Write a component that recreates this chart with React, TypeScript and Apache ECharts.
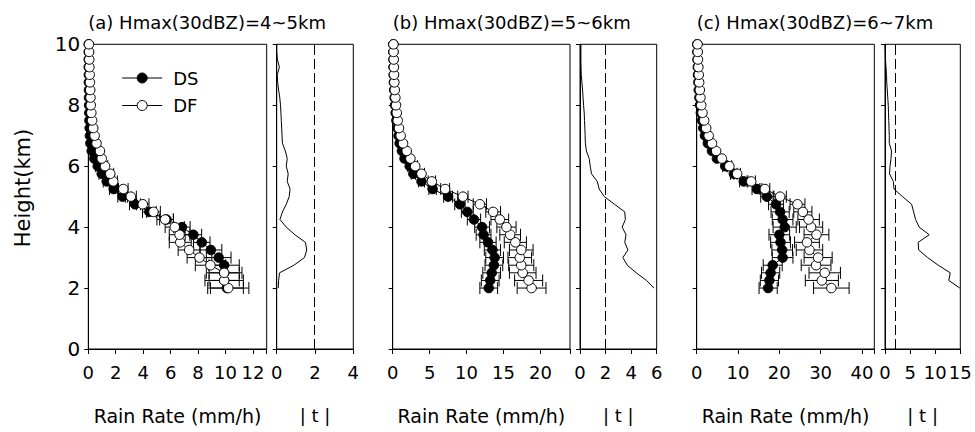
import React, { useEffect, useRef } from "react";
import * as echarts from "echarts";

// ---------- data ----------
const heights = [2, 2.25, 2.5, 2.75, 3, 3.25, 3.5, 3.75, 4, 4.25, 4.5, 4.75, 5, 5.25, 5.5, 5.75, 6, 6.25, 6.5, 6.75, 7, 7.25, 7.5, 7.75, 8, 8.25, 8.5, 8.75, 9, 9.25, 9.5, 9.75, 10];

const panelTitles = ["(a) Hmax(30dBZ)=4~5km", "(b) Hmax(30dBZ)=5~6km", "(c) Hmax(30dBZ)=6~7km"];
const seriesNames = ["DS", "DF"];

// panel (a)
const dsA = [10.1, 9.9, 9.9, 9.9, 9.5, 8.93, 8.27, 7.66, 6.82, 5.7, 4.45, 3.4, 2.5, 1.85, 1.34, 0.98, 0.69, 0.44, 0.25, 0.15, 0.12, 0.1, 0.08, 0.07, 0.06, 0.05, 0.05, 0.04, 0.04, 0.03, 0.03, 0.03, 0.03];
const dfA = [10.2, 9.9, 9.9, 8.9, 8.1, 7.35, 6.7, 6.65, 6.3, 5.6, 4.75, 3.97, 3.1, 2.55, 1.82, 1.6, 1.22, 0.98, 0.85, 0.6, 0.46, 0.36, 0.28, 0.22, 0.18, 0.16, 0.14, 0.12, 0.1, 0.08, 0.07, 0.06, 0.05];
const errDsA = [1.2, 1.1, 1.1, 1.1, 0.9, 0.8, 0.6, 0.6, 0.6, 0.5, 0.5, 0.4, 0.35, 0.3, 0.25, 0.2, 0.15, 0, 0, 0, 0, 0, 0, 0, 0, 0, 0, 0, 0, 0, 0, 0, 0];
const errDfA = [1.5, 1.4, 1.3, 1.1, 0.9, 0.8, 0.8, 0.75, 0.7, 0.6, 0.5, 0.45, 0.4, 0.35, 0.3, 0.25, 0.2, 0, 0, 0, 0, 0, 0, 0, 0, 0, 0, 0, 0, 0, 0, 0, 0];
const tA = [0.08, 0.1, 0.15, 0.9, 1.45, 1.57, 1.5, 0.95, 0.5, 0.17, 0.3, 0.5, 0.65, 0.7, 0.55, 0.6, 0.5, 0.55, 0.45, 0.3, 0.28, 0.26, 0.24, 0.22, 0.2, 0.16, 0.1, 0.05, 0.03, 0.14, 0.04, 0, 0];

// panel (b)
const dsB = [13.0, 13.2, 13.4, 13.7, 13.8, 13.5, 12.9, 12.3, 12.1, 11.0, 10.1, 9.1, 7.5, 5.4, 3.9, 2.8, 2.3, 1.6, 1.25, 0.94, 0.8, 0.65, 0.5, 0.4, 0.32, 0.26, 0.2, 0.16, 0.13, 0.11, 0.1, 0.09, 0.08];
const dfB = [18.8, 18.4, 17.6, 17.4, 17.2, 17.4, 16.6, 15.9, 15.4, 14.5, 13.6, 11.8, 9.5, 7.1, 5.3, 3.9, 3.05, 2.4, 1.9, 1.4, 1.08, 0.85, 0.68, 0.55, 0.45, 0.36, 0.28, 0.22, 0.18, 0.16, 0.14, 0.12, 0.1];
const errDsB = [1.2, 1.2, 1.2, 1.2, 1.2, 1.1, 1.1, 1.0, 1.0, 0.9, 0.8, 0.7, 0.6, 0.5, 0.4, 0.3, 0.25, 0, 0, 0, 0, 0, 0, 0, 0, 0, 0, 0, 0, 0, 0, 0, 0];
const errDfB = [1.95, 1.9, 1.8, 1.7, 1.6, 1.6, 1.5, 1.4, 1.3, 1.2, 1.0, 0.9, 0.7, 0.6, 0.5, 0.4, 0.3, 0, 0, 0, 0, 0, 0, 0, 0, 0, 0, 0, 0, 0, 0, 0, 0];
const tB = [5.8, 5.2, 4.4, 3.7, 3.35, 3.75, 3.5, 3.6, 3.3, 3.55, 3.5, 2.7, 1.9, 1.5, 1.35, 0.9, 0.8, 0.72, 0.5, 0.42, 0.4, 0.38, 0.35, 0.33, 0.28, 0.24, 0.2, 0.15, 0.1, 0.08, 0.07, 0.07, 0.07];

// panel (c)
const dsC = [17.3, 17.6, 17.9, 18.4, 20.8, 20.7, 20.3, 20.0, 21.3, 20.8, 20.2, 19.2, 17.0, 14.6, 11.4, 9.0, 6.9, 4.9, 3.7, 2.7, 2.0, 1.6, 1.3, 1.0, 0.8, 0.65, 0.5, 0.4, 0.32, 0.26, 0.2, 0.16, 0.12];
const dfC = [32.6, 30.3, 31.0, 28.9, 29.4, 27.3, 26.7, 29.0, 27.7, 27.1, 25.7, 24.4, 20.2, 16.5, 13.2, 9.8, 7.9, 6.1, 4.7, 3.7, 2.9, 2.3, 1.8, 1.4, 1.1, 0.9, 0.75, 0.6, 0.5, 0.4, 0.3, 0.25, 0.2];
const errDsC = [2.2, 2.2, 2.2, 2.3, 2.5, 2.5, 2.4, 2.5, 2.8, 2.5, 2.2, 1.8, 1.5, 1.2, 1.0, 0.8, 0.6, 0, 0, 0, 0, 0, 0, 0, 0, 0, 0, 0, 0, 0, 0, 0, 0];
const errDfC = [4.3, 4.0, 3.8, 3.6, 3.4, 3.2, 3.0, 3.0, 2.8, 2.6, 2.2, 1.8, 1.5, 1.2, 1.0, 0.8, 0.6, 0, 0, 0, 0, 0, 0, 0, 0, 0, 0, 0, 0, 0, 0, 0, 0];
const tC = [14.9, 12.7, 13.0, 10.6, 8.5, 6.7, 6.6, 8.8, 6.8, 6.1, 5.7, 5.3, 3.5, 1.8, 1.65, 0.9, 1.0, 1.2, 1.3, 0.85, 0.85, 0.8, 0.75, 0.7, 0.65, 0.55, 0.45, 0.35, 0.3, 0.2, 0.1, 0.05, 0];

// axes
const rainMax = [13, 24, 43];
const rainStep = [2, 5, 10];
const tMax = [4, 6, 15];
const tStep = [2, 2, 5];
const tCritical = 1.96;
const heightMax = 10;
const heightStep = 2;
const rainAxisName = "Rain Rate (mm/h)";
const tAxisName = "| t |";
const heightAxisName = "Height(km)";

const dsAll = [dsA, dsB, dsC];
const dfAll = [dfA, dfB, dfC];
const errDsAll = [errDsA, errDsB, errDsC];
const errDfAll = [errDfA, errDfB, errDfC];
const tAll = [tA, tB, tC];

// ---------- layout ----------
const FONT = "DejaVu Sans";
const GRID_TOP = 44.3;
const GRID_H = 304.7;
const mainGrids = [
  { left: 88.3, width: 178.4 },
  { left: 392.7, width: 177.3 },
  { left: 696.7, width: 177.6 },
];
const tGrids = [
  { left: 276.7, width: 76.6 },
  { left: 580, width: 76.7 },
  { left: 885, width: 75.3 },
];

function errorBarSeries(axisIndex: number, vals: number[], errs: number[]) {
  const data = heights
    .map((h, i) => [vals[i] - errs[i], vals[i] + errs[i], h, errs[i]])
    .filter((d) => d[3] > 0);
  return {
    type: "custom",
    xAxisIndex: axisIndex,
    yAxisIndex: axisIndex,
    z: 1,
    silent: true,
    clip: false,
    encode: { x: [0, 1], y: 2 },
    data,
    renderItem: (_params: any, api: any) => {
      const lo = api.value(0);
      const hi = api.value(1);
      const h = api.value(2);
      const p1 = api.coord([lo, h]);
      const p2 = api.coord([hi, h]);
      const c = 6;
      const style = { stroke: "#000", lineWidth: 1 };
      return {
        type: "group",
        children: [
          { type: "line", shape: { x1: p1[0], y1: p1[1], x2: p2[0], y2: p2[1] }, style },
          { type: "line", shape: { x1: p1[0], y1: p1[1] - c, x2: p1[0], y2: p1[1] + c }, style },
          { type: "line", shape: { x1: p2[0], y1: p2[1] - c, x2: p2[0], y2: p2[1] + c }, style },
        ],
      };
    },
  };
}

function buildOption() {
  const grid: any[] = [];
  const xAxis: any[] = [];
  const yAxis: any[] = [];
  const series: any[] = [];

  const axisLineStyle = { color: "#000", width: 1 };

  for (let p = 0; p < 3; p++) {
    const mi = p * 2;
    const ti = p * 2 + 1;
    grid.push({
      left: mainGrids[p].left, top: GRID_TOP, width: mainGrids[p].width, height: GRID_H,
      show: true, borderColor: "#000", borderWidth: 1, backgroundColor: "transparent",
    });
    grid.push({
      left: tGrids[p].left, top: GRID_TOP, width: tGrids[p].width, height: GRID_H,
      show: true, borderColor: "#000", borderWidth: 1, backgroundColor: "transparent",
    });

    const step = rainStep[p];
    xAxis.push({
      gridIndex: mi, type: "value", min: 0, max: rainMax[p], interval: step, position: "bottom",
      axisLine: { show: true, onZero: false, lineStyle: axisLineStyle },
      axisTick: { show: true, length: 5, inside: false, lineStyle: axisLineStyle },
      splitLine: { show: false },
      axisLabel: {
        color: "#000", fontFamily: FONT, fontSize: 18, margin: 14,
        formatter: (v: number) => (Math.abs(v / step - Math.round(v / step)) < 1e-6 ? String(v) : ""),
      },
      name: rainAxisName, nameLocation: "middle", nameGap: 57,
      nameTextStyle: { color: "#000", fontFamily: FONT, fontSize: 19 },
    });
    const ts = tStep[p];
    xAxis.push({
      gridIndex: ti, type: "value", min: 0, max: tMax[p], interval: ts, position: "bottom",
      axisLine: { show: true, onZero: false, lineStyle: axisLineStyle },
      axisTick: { show: true, length: 5, inside: false, lineStyle: axisLineStyle },
      splitLine: { show: false },
      axisLabel: {
        color: "#000", fontFamily: FONT, fontSize: 18, margin: 14,
        formatter: (v: number) => (Math.abs(v / ts - Math.round(v / ts)) < 1e-6 ? String(v) : ""),
      },
      name: tAxisName, nameLocation: "middle", nameGap: 57,
      nameTextStyle: { color: "#000", fontFamily: FONT, fontSize: 18 },
    });

    for (const gi of [mi, ti]) {
      yAxis.push({
        gridIndex: gi, type: "value", min: 0, max: heightMax, interval: heightStep,
        axisLine: { show: true, onZero: false, lineStyle: axisLineStyle },
        axisTick: { show: true, length: 4, inside: false, lineStyle: axisLineStyle },
        splitLine: { show: false },
        axisLabel: { show: gi === 0, color: "#000", fontFamily: FONT, fontSize: 20, margin: 8 },
      });
    }

    series.push(errorBarSeries(mi, dsAll[p], errDsAll[p]));
    series.push(errorBarSeries(mi, dfAll[p], errDfAll[p]));
    series.push({
      type: "line", name: seriesNames[0], xAxisIndex: mi, yAxisIndex: mi, z: 2,
      data: heights.map((h, i) => [dsAll[p][i], h]),
      symbol: "circle", symbolSize: 9.5, showAllSymbol: true, clip: false,
      itemStyle: { color: "#000", borderColor: "#000", borderWidth: 1 },
      lineStyle: { color: "#000", width: 1 },
    });
    series.push({
      type: "line", name: seriesNames[1], xAxisIndex: mi, yAxisIndex: mi, z: 3,
      data: heights.map((h, i) => [dfAll[p][i], h]),
      symbol: "circle", symbolSize: 9.5, showAllSymbol: true, clip: false,
      itemStyle: { color: "#fff", borderColor: "#000", borderWidth: 1 },
      lineStyle: { color: "#000", width: 1 },
    });
    series.push({
      type: "line", name: "t" + p, xAxisIndex: ti, yAxisIndex: ti, z: 2,
      data: heights.map((h, i) => [tAll[p][i], h]),
      symbol: "none",
      lineStyle: { color: "#000", width: 1 },
      markLine: {
        silent: true, symbol: ["none", "none"], label: { show: false },
        lineStyle: { color: "#000", width: 1, type: [10, 4] },
        data: [{ xAxis: tCritical }],
      },
    });
  }

  const graphic: any[] = [];
  const titleX = [mainGrids[0].left, mainGrids[1].left, mainGrids[2].left];
  for (let p = 0; p < 3; p++) {
    graphic.push({
      type: "text", x: titleX[p], y: 22.5,
      style: {
        text: panelTitles[p], font: `18px "${FONT}"`, fill: "#000",
        align: "left", verticalAlign: "middle", textAlign: "left", textVerticalAlign: "middle",
      },
    });
  }
  graphic.push({
    type: "text", x: 22.5, y: 188, rotation: Math.PI / 2,
    style: {
      text: heightAxisName, font: `21px "${FONT}"`, fill: "#000",
      align: "center", verticalAlign: "middle", textAlign: "center", textVerticalAlign: "middle",
    },
  });

  return {
    animation: false,
    backgroundColor: "#fff",
    grid, xAxis, yAxis, series, graphic,
    legend: {
      data: seriesNames, orient: "vertical", left: 121.7, top: 69,
      itemWidth: 40, itemHeight: 12.5, itemGap: 9.5, padding: 0,
      itemStyle: { borderColor: "#000", borderWidth: 1 },
      lineStyle: { color: "#000", width: 1 },
      textStyle: { color: "#000", fontFamily: FONT, fontSize: 18, padding: [0, 0, 0, 6] },
      selectedMode: false,
    },
  };
}

export default function App() {
  const ref = useRef<HTMLDivElement>(null);
  useEffect(() => {
    if (!ref.current) return;
    const chart = echarts.init(ref.current, undefined, { renderer: "svg" });
    chart.setOption(buildOption() as any);
    return () => chart.dispose();
  }, []);
  return (
    <div
      ref={ref}
      style={{ position: "absolute", left: 0, top: 0, width: 975, height: 432, background: "#fff" }}
    />
  );
}
